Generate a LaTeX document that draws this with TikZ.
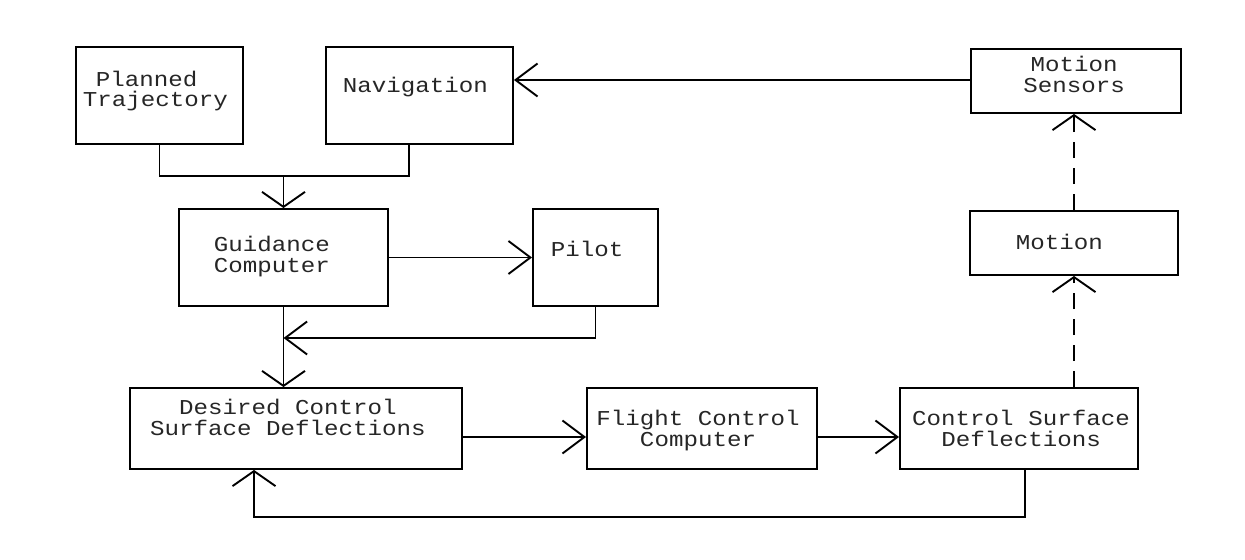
\documentclass[tikz,border=0pt]{standalone}
\usepackage{fontspec}
\usetikzlibrary{arrows.meta,fit,calc}
\newfontfamily\diagfont{Liberation Mono}[FakeStretch=1.14]

\begin{document}
\begin{tikzpicture}[
  x=0.5pt, y=-0.5pt,
  line width=0.95pt,
  box/.style={draw, rectangle, inner sep=0pt},
  lbl/.style={inner sep=0pt, text=black!85, font=\diagfont\fontsize{10.6}{12}\selectfont},
  lw/.style={lbl, anchor=base west},
  lc/.style={lbl, anchor=base},
  hto/.style={-{Straight Barb[length=11pt,width=16.5pt]}},
  vto/.style={-{Straight Barb[length=7.5pt,width=21.5pt]}},
  dsh/.style={dash pattern=on 8pt off 5pt}
]
\useasboundingbox (0,0) rectangle (1245,560);

% blocks
\node[box, fit={(76,47) (243,144)}]   (plan)  {};
\node[box, fit={(326,47) (513,144)}]  (nav)   {};
\node[box, fit={(971,49) (1181,113)}] (sens)  {};
\node[box, fit={(179,209) (388,306)}] (guid)  {};
\node[box, fit={(533,209) (658,306)}] (pilot) {};
\node[box, fit={(970,211) (1178,275)}] (mot)  {};
\node[box, fit={(130,388) (462,469)}] (des)   {};
\node[box, fit={(587,388) (817,469)}] (fcc)   {};
\node[box, fit={(900,388) (1138,469)}] (csd)  {};

% block texts
\node[lw] (plan-a) at (95,87)  {Planned};
\node[lw] (plan-b) at (82,107) {Trajectory};
\node[lw] (nav-a)  at (342,93) {Navigation};
\node[lc] (sens-a) at (1074,72) {Motion};
\node[lc] (sens-b) at (1074,93) {Sensors};
\node[lw] (guid-a) at (213,252) {Guidance};
\node[lw] (guid-b) at (213,273) {Computer};
\node[lw] (pilot-a) at (550,257) {Pilot};
\node[lw] (mot-a)  at (1015,250) {Motion};
\node[lc] (des-a)  at (288,415) {Desired Control};
\node[lc] (des-b)  at (288,436) {Surface Deflections};
\node[lc] (fcc-a)  at (698,425) {Flight Control};
\node[lc] (fcc-b)  at (698,446) {Computer};
\node[lc] (csd-a)  at (1021,425) {Control Surface};
\node[lc] (csd-b)  at (1021,446) {Deflections};

% routing points
\coordinate (jn)  at (283.5,176);
\coordinate (navdrop) at (409,0);
\coordinate (srow) at (0,80);
\coordinate (pj)  at (283.5,338);
\coordinate (row) at (0,437);
\coordinate (fbr) at (1025,517);
\coordinate (fbl) at (254,517);

% planned trajectory and navigation feed the guidance computer
\draw (plan.south) |- (jn) -| (nav.south -| navdrop);
\draw[vto] (jn) -- (guid.north);

% motion sensors to navigation
\draw[hto] (sens.west |- srow) -- (nav.east |- srow);

% guidance computer and pilot
\draw[hto] (guid.east) -- (pilot.west);
\draw[hto] (pilot.south) |- (pj);
\draw[vto] (guid.south) -- (guid.south |- des.north);

% control chain
\draw[hto] (des.east |- row) -- (fcc.west |- row);
\draw[hto] (fcc.east |- row) -- (csd.west |- row);

% feedback of actual deflections
\draw[vto] (csd.south -| fbr) -- (fbr) -- (fbl) -- (des.south -| fbl);

% resulting motion, sensed
\draw[vto,dsh] (csd.north -| mot.south) -- (mot.south);
\draw[vto,dsh] (mot.north) -- (mot.north |- sens.south);
\end{tikzpicture}
\end{document}
